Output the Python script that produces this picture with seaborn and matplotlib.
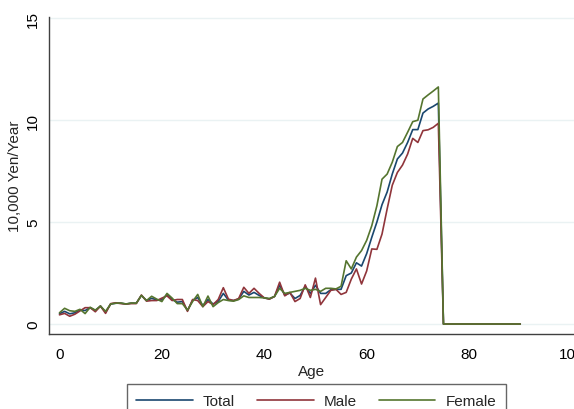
import pandas as pd
import seaborn as sns
import matplotlib.pyplot as plt

ages = list(range(91))
total = [0.50, 0.62, 0.50, 0.55, 0.68, 0.66, 0.80, 0.66, 0.88, 0.58,
         0.98, 1.02, 1.02, 0.98, 1.02, 1.02, 1.40, 1.15, 1.26, 1.18,
         1.18, 1.45, 1.20, 1.07, 1.10, 0.66, 1.16, 1.30, 0.90, 1.20,
         0.98, 1.10, 1.50, 1.17, 1.15, 1.22, 1.60, 1.42, 1.55, 1.40,
         1.28, 1.23, 1.35, 1.90, 1.42, 1.52, 1.25, 1.40, 1.85, 1.50,
         1.90, 1.50, 1.50, 1.68, 1.70, 1.70, 2.37, 2.50, 3.00, 2.84,
         3.45, 4.25, 5.00, 5.85, 6.47, 7.35, 8.09, 8.38, 8.90, 9.53,
         9.53, 10.34, 10.54, 10.67, 10.83, 0, 0, 0, 0, 0,
         0, 0, 0, 0, 0, 0, 0, 0, 0, 0, 0]
male = [0.45, 0.52, 0.38, 0.48, 0.64, 0.80, 0.80, 0.60, 0.88, 0.52,
        1.00, 1.04, 1.00, 0.98, 1.00, 1.00, 1.42, 1.12, 1.15, 1.15,
        1.27, 1.38, 1.15, 1.20, 1.20, 0.62, 1.20, 1.15, 0.85, 1.10,
        0.95, 1.20, 1.78, 1.22, 1.15, 1.25, 1.80, 1.50, 1.75, 1.50,
        1.28, 1.22, 1.35, 2.05, 1.38, 1.55, 1.10, 1.25, 1.92, 1.30,
        2.25, 0.95, 1.30, 1.65, 1.70, 1.45, 1.55, 2.20, 2.70, 1.96,
        2.60, 3.68, 3.66, 4.41, 5.64, 6.80, 7.43, 7.79, 8.33, 9.10,
        8.90, 9.48, 9.52, 9.64, 9.84, 0, 0, 0, 0, 0,
        0, 0, 0, 0, 0, 0, 0, 0, 0, 0, 0]
female = [0.55, 0.77, 0.65, 0.62, 0.72, 0.51, 0.82, 0.68, 0.88, 0.62,
          0.98, 1.02, 1.03, 0.98, 1.03, 1.02, 1.40, 1.15, 1.36, 1.22,
          1.10, 1.50, 1.27, 1.00, 1.00, 0.68, 1.10, 1.45, 0.85, 1.37,
          0.85, 1.05, 1.20, 1.15, 1.12, 1.20, 1.38, 1.30, 1.30, 1.30,
          1.28, 1.25, 1.35, 1.75, 1.50, 1.55, 1.60, 1.65, 1.75, 1.65,
          1.70, 1.60, 1.75, 1.75, 1.72, 1.85, 3.10, 2.70, 3.28, 3.60,
          4.10, 4.82, 5.80, 7.10, 7.35, 7.93, 8.70, 8.90, 9.40, 9.92,
          9.99, 11.03, 11.23, 11.42, 11.62, 0, 0, 0, 0, 0,
          0, 0, 0, 0, 0, 0, 0, 0, 0, 0, 0]
series_names = ["Total", "Male", "Female"]
colors = ["#1a476f", "#90353b", "#55752f"]

df = pd.DataFrame({
    "Age": ages * 3,
    "value": total + male + female,
    "series": [n for n in series_names for _ in ages],
})

sns.set_style("white")
plt.rcParams["font.family"] = ["Liberation Sans", "DejaVu Sans"]

fig = plt.figure(figsize=(5.74, 4.10), dpi=100)
ax = fig.add_axes([49 / 574, 1 - 335 / 410, 1 - 49 / 574, (335 - 18) / 410])
sns.lineplot(data=df, x="Age", y="value", hue="series", hue_order=series_names,
             palette=colors, linewidth=1.2, ax=ax, legend=False)

ax.set_xlim(-2.05, 100.5)
ax.set_ylim(-0.49, 15.05)
ax.set_xticks([0, 20, 40, 60, 80, 100])
ax.set_yticks([0, 5, 10, 15])
ax.yaxis.grid(True, color="#eaf2f3", linewidth=1.0)
ax.xaxis.grid(False)
ax.set_axisbelow(True)

for s in ["top", "right"]:
    ax.spines[s].set_visible(False)
for s in ["left", "bottom"]:
    ax.spines[s].set_color("#404040")
    ax.spines[s].set_linewidth(1.0)

ax.tick_params(axis="both", direction="out", length=5.5, width=1.0,
               color="#404040", labelsize=11, labelcolor="black")
ax.tick_params(axis="x", pad=4)
ax.tick_params(axis="y", pad=1)
for lab in ax.get_yticklabels():
    lab.set_rotation(90)
    lab.set_va("center")

ax.set_xlabel("Age", fontsize=11, labelpad=2)
ax.set_ylabel("10,000 Yen/Year", fontsize=11, labelpad=3)

handles = ax.get_lines()[:3]
leg = fig.legend(handles, series_names, loc="upper center",
                 bbox_to_anchor=(0.551, 1 - 385 / 410), ncol=3, frameon=True,
                 fancybox=False, edgecolor="#404040", fontsize=11,
                 handlelength=3.7, handletextpad=0.65, columnspacing=1.45,
                 borderpad=0.65, borderaxespad=0)
leg.get_frame().set_linewidth(1.0)

fig.savefig("out.png", dpi=100)
